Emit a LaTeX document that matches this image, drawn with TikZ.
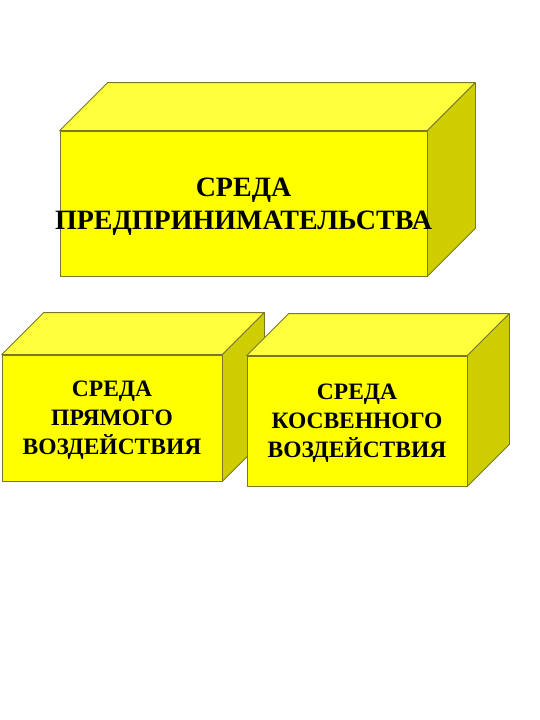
\documentclass[tikz,border=0pt]{standalone}
\usepackage{fontspec}
\setmainfont{Liberation Serif}
\usetikzlibrary{backgrounds}

\definecolor{boxfront}{RGB}{255,255,0}
\definecolor{boxtop}{RGB}{255,255,60}
\definecolor{boxside}{RGB}{205,205,0}
\definecolor{boxline}{RGB}{120,120,40}

\tikzset{
  front/.style = {draw=boxline, fill=boxfront, line width=0.8pt, inner sep=0pt,
    text depth=0pt, align=center, font=\fontsize{23.5}{29}\selectfont\bfseries},
  topface/.style = {draw=boxline, fill=boxtop, line width=0.8pt, line join=round},
  sideface/.style = {draw=boxline, fill=boxside, line width=0.8pt, line join=round},
}

% top and right faces behind a front face node: #1 node, #2 depth
\newcommand{\boxfaces}[2]{
  \begin{pgfonlayer}{background}
  \draw[topface] (#1.north west) -- ++(#2,-#2) -- ([shift={(#2,-#2)}]#1.north east) -- (#1.north east) -- cycle;
  \draw[sideface] (#1.north east) -- ++(#2,-#2) -- ([shift={(#2,-#2)}]#1.south east) -- (#1.south east) -- cycle;
  \end{pgfonlayer}
}

\begin{document}
\begin{tikzpicture}[x=1pt, y=-1pt]
  \useasboundingbox (0,0) rectangle (540,720);

  \node[front, minimum width=367pt, minimum height=145pt,
    font=\fontsize{28}{33}\selectfont\bfseries] (env) at (243.5,203.5)
    {СРЕДА\\\makebox[0pt]{ПРЕДПРИНИМАТЕЛЬСТВА}};
  \boxfaces{env}{48}

  \node[front, minimum width=220pt, minimum height=126pt] (direct) at (112,418)
    {СРЕДА\\ПРЯМОГО\\ВОЗДЕЙСТВИЯ};
  \boxfaces{direct}{42}

  \node[front, minimum width=220pt, minimum height=130pt] (indirect) at (357,421)
    {СРЕДА\\КОСВЕННОГО\\ВОЗДЕЙСТВИЯ};
  \boxfaces{indirect}{42}
\end{tikzpicture}
\end{document}
